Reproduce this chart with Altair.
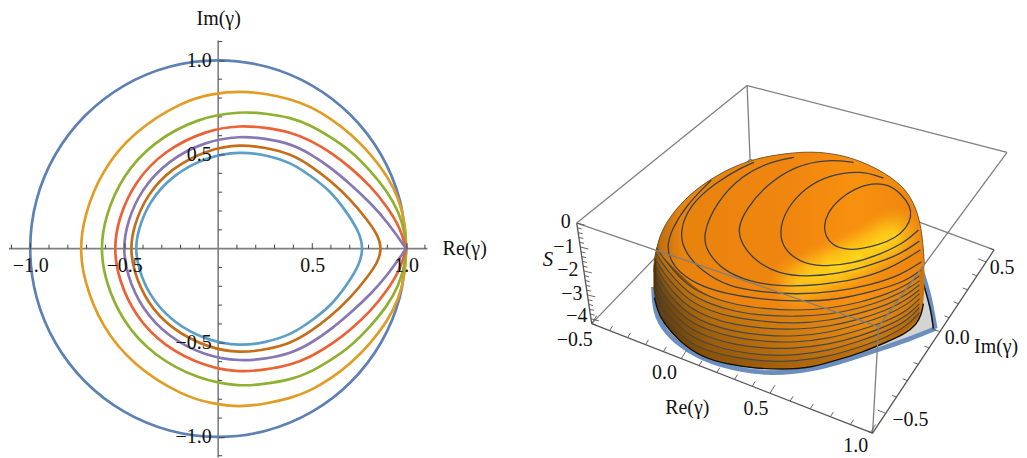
import altair as alt
import numpy as np
import pandas as pd

FONT = "Liberation Serif"
AX = "#7f7f7f"
# ---------- left panel: contour curves (Re, Im)
CURVES = [
 ("#5E81B5", "catmull-rom",
  [1,.966,.866,.707,.5,.259,0,-.259,-.5,-.707,-.866,-.966,-1,-.966,-.866,-.707,-.5,-.259,0,.259,.5,.707,.866,.966,1],
  [0,.259,.5,.707,.866,.966,1,.966,.866,.707,.5,.259,0,-.259,-.5,-.707,-.866,-.966,-1,-.966,-.866,-.707,-.5,-.259,0]),
 ("#E19C24", "basis",
  [1,.997,.961,.899,.811,.705,.599,.493,.387,.25,.12,-.03,-.186,-.453,-.624,-.713,-.737,-.713,-.624,-.453,-.186,-.03,.12,.25,.387,.493,.599,.705,.811,.899,.961,.997,1],
  [0,.123,.265,.38,.494,.60,.679,.741,.78,.81,.822,.81,.77,.61,.40,.17,0,-.17,-.40,-.61,-.77,-.81,-.827,-.81,-.78,-.741,-.679,-.60,-.494,-.38,-.265,-.123,0]),
 ("#8FB131", "basis",
  [1,.997,.961,.899,.811,.705,.599,.493,.387,.25,.12,-.10,-.344,-.51,-.601,-.627,-.601,-.51,-.344,-.10,.12,.25,.387,.493,.599,.705,.811,.899,.961,.997,1],
  [0,.071,.194,.30,.406,.511,.582,.644,.684,.706,.716,.685,.56,.38,.17,0,-.17,-.38,-.56,-.685,-.72,-.706,-.684,-.644,-.582,-.511,-.406,-.30,-.194,-.071,0]),
 ("#EC6235", "basis",
  [1,.97,.899,.811,.705,.599,.493,.387,.25,.12,-.06,-.29,-.443,-.53,-.556,-.53,-.443,-.29,-.06,.12,.25,.387,.493,.599,.705,.811,.899,.97,1],
  [0,.106,.22,.326,.423,.503,.564,.608,.632,.643,.62,.51,.35,.16,0,-.16,-.35,-.51,-.62,-.645,-.632,-.608,-.564,-.503,-.423,-.326,-.22,-.106,0]),
 ("#8778B3", "basis",
  [1,1,.899,.811,.705,.599,.493,.387,.25,.12,-.07,-.267,-.409,-.484,-.507,-.484,-.409,-.267,-.07,.12,.25,.387,.493,.599,.705,.811,.899,1,1],
  [0,0,.141,.238,.335,.423,.494,.547,.575,.588,.56,.46,.31,.14,0,-.14,-.31,-.46,-.56,-.588,-.575,-.547,-.494,-.423,-.335,-.238,-.141,0,0]),
 ("#C56E1A", "basis-closed",
  [.87,.85,.793,.705,.599,.493,.387,.25,.12,-.05,-.25,-.38,-.449,-.468,-.449,-.38,-.25,-.05,.12,.25,.387,.493,.599,.705,.793,.85],
  [0,.071,.15,.256,.353,.432,.494,.528,.544,.52,.42,.28,.12,0,-.12,-.28,-.42,-.52,-.544,-.528,-.494,-.432,-.353,-.256,-.15,-.071]),
 ("#5D9EC7", "basis-closed",
  [.773,.75,.688,.599,.493,.387,.25,.12,-.062,-.249,-.37,-.425,-.441,-.425,-.37,-.249,-.062,.12,.25,.387,.493,.599,.688,.75],
  [0,.088,.185,.30,.379,.45,.49,.507,.48,.38,.24,.10,0,-.10,-.24,-.38,-.48,-.509,-.49,-.45,-.379,-.30,-.185,-.088]),
]
SPLINE_COMP = 1.018   # a basis spline pulls in slightly; widen the Im values to stay on the read curve
MAJOR = [-1.0, -0.5, 0.5, 1.0]
MINOR = [-1.1, -.9, -.8, -.7, -.6, -.4, -.3, -.2, -.1, .1, .2, .3, .4, .6, .7, .8, .9, 1.1]

LW, PH = 480, 450
X0, Y0 = 209.0, 238.7          # pixel position of the origin inside the panel
SX, SY = 188.7, 189.0
xs_left = alt.Scale(domain=[-X0 / SX, (LW - X0) / SX], nice=False, zero=False)
ys_left = alt.Scale(domain=[-(PH - Y0) / SY, Y0 / SY], nice=False, zero=False)

x_axis = alt.Axis(orient="top", offset=-Y0, values=MAJOR, labelExpr="format(datum.value,'.1f')", grid=False,
                  tickColor="#444", tickWidth=1, tickSize=6, domain=False, zindex=1,
                  labelFont=FONT, labelFontSize=20, labelColor="#111", labelBaseline="middle",
                  labelPadding=-23, labelOverlap=False, labelFlush=False, labelBound=False,
                  title="Re(γ)", titleFont=FONT, titleFontSize=20, titleFontWeight="normal",
                  titleColor="#111", titleAngle=0, titleAlign="center", titleBaseline="middle",
                  titleX=456, titleY=0)
y_axis = alt.Axis(orient="right", offset=-(LW - X0), values=MAJOR, labelExpr="format(datum.value,'.1f')", grid=False,
                  tickColor="#444", tickWidth=1, tickSize=6, domain=False, zindex=1,
                  labelFont=FONT, labelFontSize=20, labelColor="#111", labelAlign="right",
                  labelBaseline="middle", labelPadding=-13, labelOverlap=False, labelFlush=False, labelBound=False,
                  title="Im(γ)", titleFont=FONT, titleFontSize=20, titleFontWeight="normal",
                  titleColor="#111", titleAngle=0, titleAlign="center", titleBaseline="middle",
                  titleX=0, titleY=8)

ax_df = pd.DataFrame({"x": [-1.113, 0], "x2": [1.113, 0], "y": [0, -1.11], "y2": [0, 1.105]})
minor_x = pd.DataFrame({"x": MINOR, "x2": MINOR, "y": [0.0] * len(MINOR), "y2": [0.021] * len(MINOR)})
minor_y = pd.DataFrame({"x": [0.0] * len(MINOR), "x2": [0.021] * len(MINOR), "y": MINOR, "y2": MINOR})
XL = alt.X("x:Q", scale=xs_left)
YL = alt.Y("y:Q", scale=ys_left)
left_layers = [
    alt.Chart(ax_df).mark_rule(color=AX, strokeWidth=1.6).encode(
        x=alt.X("x:Q", scale=xs_left, axis=x_axis), x2="x2:Q",
        y=alt.Y("y:Q", scale=ys_left, axis=y_axis), y2="y2:Q"),
    alt.Chart(minor_x).mark_rule(color="#444", strokeWidth=1).encode(x=XL, x2="x2:Q", y=YL, y2="y2:Q"),
    alt.Chart(minor_y).mark_rule(color="#444", strokeWidth=1).encode(x=XL, x2="x2:Q", y=YL, y2="y2:Q"),
]
for col, kind, re_, im_ in CURVES:
    k = SPLINE_COMP if kind != "catmull-rom" else 1.0
    d = pd.DataFrame({"re": re_, "im": [v * k for v in im_], "o": range(len(re_))})
    left_layers.append(
        alt.Chart(d).mark_line(color=col, strokeWidth=2.7, interpolate=kind).encode(
            x=alt.X("re:Q", scale=xs_left), y=alt.Y("im:Q", scale=ys_left), order="o:Q"))
left = alt.layer(*left_layers).properties(width=LW, height=PH)

# ---------- right panel: projected 3-D picture, positions
RW = 531
xs_r = alt.Scale(domain=[488, 1019], nice=False, zero=False)
ys_r = alt.Scale(domain=[458, 8], nice=False, zero=False)
EX = alt.X("sx:Q", scale=xs_r, axis=None)
EY = alt.Y("sy:Q", scale=ys_r, axis=None)

A, B, C, D = (577, 221), (748, 83), (1009, 150), (880, 325)
E, F, G, H = (592, 322), (874, 432), (996, 248), (751, 157)
BACK = [(A, B), (B, C), (B, H), (E, H), (G, H)]
FRONT = [(A, D), (D, C), (D, F)]
EDGES = [(A, E), (E, F), (F, G)]

def segs(pairs):
    return pd.DataFrame([{"sx": p[0], "sy": p[1], "sx2": q[0], "sy2": q[1]} for p, q in pairs])

def seg_chart(df, **kw):
    return alt.Chart(df).mark_rule(**kw).encode(x=EX, y=EY, x2="sx2:Q", y2="sy2:Q")

# axis ticks
S_TICKS = [-0.2 * i for i in range(22)]
RE_TICKS = [round(-.5 + .1 * i, 1) for i in range(16)]
IM_TICKS = [round(-.6 + .1 * i, 1) for i in range(13)]
re_t = []
for v in RE_TICKS:
    px = np.interp(v, [-.5, 0, .5, 1], [592, 682, 771, 872])
    py = np.interp(px, [E[0], F[0]], [E[1], F[1]])
    k = 1.0 if round(v * 10) % 5 == 0 else .6
    re_t.append(((px, py), (px + 5 * k, py - 8 * k)))
im_t = []
for v in IM_TICKS:
    py = np.interp(-v, [-.6, -.5, 0, .5, .6], [248, 260, 330, 412, 432])
    px = np.interp(py, [G[1], F[1]], [G[0], F[0]])
    k = 1.0 if round(v * 10) % 5 == 0 else .6
    im_t.append(((px, py), (px - 8 * k, py - 3 * k)))
s_t = []
for v in S_TICKS:
    py = np.interp(-v, [0, 4.2], [A[1], E[1]])
    px = np.interp(py, [A[1], E[1]], [A[0], E[0]])
    k = 1.0 if round(v * 5) % 5 == 0 else .55
    s_t.append(((px, py), (px + 8 * k, py + 2 * k)))

# wall and dome outline
OUT_X = [654, 655, 658, 663, 680, 703, 730, 757, 787, 813, 840, 863, 887, 907, 918, 923, 925, 926]
OUT_TOP = [270, 255, 243, 226, 202, 182, 166, 156, 151, 149, 152, 159, 171, 186, 206, 227, 247, 262]
DOME_BOT = [270, 258, 252, 254, 272, 292, 302, 307, 309, 309, 305, 300, 292, 284, 277, 270, 262, 262]
WALL_BOT = [285, 296, 308, 320, 340, 356, 363, 367, 368, 366, 358, 351, 341, 332, 323, 313, 302, 285]
shape = pd.DataFrame({"sx": OUT_X, "sy": OUT_TOP, "dome": DOME_BOT, "wall": WALL_BOT})

FLOOR_X = [655, 665, 688, 722, 768, 817, 850, 883, 910, 925, 930, 935]
FLOOR_LOW = [310, 330, 350, 365, 372, 367, 358, 347, 338, 332, 330, 328]
FLOOR_UP = [300, 310, 320, 330, 340, 340, 330, 310, 290, 281, 297, 325]
floor = pd.DataFrame({"sx": FLOOR_X, "sy": FLOOR_LOW, "up": FLOOR_UP})

BLUE_X1 = [654, 654, 655, 665, 688, 722, 768, 812, 850, 883, 910, 937, 937]
BLUE_Y1 = [285, 285, 310, 330, 350, 365, 373, 369, 358, 347, 338, 327, 327]
BLUE_X2 = [937, 937, 934, 930, 923]
BLUE_Y2 = [327, 327, 310, 290, 268]
BLACK_X = [923, 928, 933, 935]
BLACK_Y = [275, 292, 310, 327]

def grad_h(stops):
    return alt.Gradient(gradient="linear", x1=0, x2=1, y1=0, y2=0,
                        stops=[alt.GradientStop(color=c, offset=o) for o, c in stops])

def radial(stops):
    return alt.RadialGradient(gradient="radial", x1=.5, y1=.5, r1=0, x2=.5, y2=.5, r2=.5,
                              stops=[alt.GradientStop(color=c, offset=o) for o, c in stops])

wall = alt.Chart(shape).mark_area(interpolate="basis", color=grad_h(
    [(0, "#4e2f04"), (.03, "#6f4306"), (.2, "#a2620b"), (.5, "#c87710"), (.8, "#e58a12"), (1, "#c8750f")])
).encode(x=EX, y=EY, y2="wall:Q")
dome = alt.Chart(shape).mark_area(interpolate="basis", color=grad_h(
    [(0, "#7c4a06"), (.025, "#c07010"), (.1, "#e8830f"), (.5, "#f0860f"), (.75, "#f8900f"), (1, "#ec850f")])
).encode(x=EX, y=EY, y2="dome:Q")

# soft yellow highlight: round glows along the lit band
GLOW_X = [800, 820, 840, 860, 880, 896]
GLOW_Y = [281, 272, 264, 254, 243, 233]
GLOW_A = [.7, .9, 1, 1, .95, .7]
GLOW_R = 30
blobs = []
for gx, gy, ga in zip(GLOW_X, GLOW_Y, GLOW_A):
    bd = pd.DataFrame({"sx": [gx - GLOW_R, gx + GLOW_R], "sy": [gy - GLOW_R] * 2, "b": [gy + GLOW_R] * 2})
    blobs.append(alt.Chart(bd).mark_area(color=radial(
        [(0, f"rgba(255,230,30,{ga})"), (.5, f"rgba(255,208,25,{ga * .55})"), (1, "rgba(250,160,20,0)")])
    ).encode(x=EX, y=EY, y2="b:Q"))

CONT_COL = "#3b4144"
C1_X = [825, 828, 840, 857, 873, 890, 903, 912, 913, 908, 897, 880, 863, 847, 833, 827]
C1_Y = [225, 212, 197, 186, 181, 182, 192, 204, 215, 226, 236, 243, 247, 248, 243, 234]
OPEN = [
 ([885, 863, 830, 807, 787, 780, 785, 800, 823, 853, 883, 907, 920],
  [176, 168, 173, 185, 207, 230, 247, 260, 265, 262, 252, 240, 228]),
 ([855, 830, 797, 767, 747, 738, 743, 757, 780, 807, 840, 873, 903, 921],
  [160, 157, 163, 183, 207, 227, 243, 260, 272, 275, 272, 263, 252, 239]),
 ([795, 770, 743, 717, 703, 708, 723, 750, 783, 823, 857, 890, 922],
  [155, 160, 173, 200, 233, 250, 268, 280, 285, 283, 278, 268, 248]),
 ([755, 743, 717, 690, 680, 685, 703, 730, 760, 797, 837, 873, 903, 923],
  [160, 165, 180, 203, 230, 250, 270, 285, 290, 293, 290, 283, 273, 260]),
 ([712, 687, 672, 667, 673, 697, 727, 757, 797, 840, 873, 907, 923],
  [178, 203, 228, 245, 265, 283, 292, 297, 300, 298, 290, 280, 268]),
]
RIM_X = [657, 664, 675, 690, 710, 735, 765, 797, 830, 860, 890, 910, 921]
RIMS = [
 [246, 256, 270, 285, 295, 303, 307, 309, 307, 301, 292, 282, 274],
 [252, 263, 277, 292, 302, 310, 314, 315, 313, 307, 297, 287, 279],
 [259, 271, 284, 299, 309, 316, 320, 322, 319, 312, 303, 292, 283],
 [265, 278, 292, 306, 316, 323, 327, 328, 325, 318, 308, 297, 288],
 [271, 285, 299, 313, 323, 330, 334, 335, 331, 323, 313, 302, 292],
 [278, 293, 306, 320, 329, 336, 340, 341, 337, 329, 319, 308, 297],
 [284, 300, 313, 327, 336, 343, 347, 347, 343, 335, 324, 313, 302],
 [290, 307, 320, 334, 343, 350, 354, 354, 349, 340, 329, 318, 306],
 [297, 315, 328, 341, 350, 356, 360, 360, 355, 346, 335, 323, 311],
]
# shading of the bands between wall contours: warm near the rim, dark near the floor
BAND_COL = ["#f08c10", "#f08c10", "#f08c10", "#f08c10", "#f08c10", "#3c1e00", "#3c1e00", "#3c1e00"]
BAND_A = [.6, .45, .32, .2, .08, .03, .08, .14]
bands = []
for r0, r1, c, a in zip(RIMS[:-1], RIMS[1:], BAND_COL, BAND_A):
    bd = pd.DataFrame({"sx": RIM_X, "sy": r0, "b": r1})
    bands.append(alt.Chart(bd).mark_area(color=c, opacity=a, interpolate="basis").encode(x=EX, y=EY, y2="b:Q"))
LOW_X = [664, 675, 690, 710, 735, 765, 797, 830, 860, 890, 910, 921]
LOW_BOT = [322, 335, 348, 357, 363, 367, 367, 361, 351, 340, 328, 315]
bd = pd.DataFrame({"sx": LOW_X, "sy": RIMS[-1][1:], "b": LOW_BOT})
bands.append(alt.Chart(bd).mark_area(color="#3c1e00", opacity=.22, interpolate="basis").encode(x=EX, y=EY, y2="b:Q"))

def pline(xs, ys, color=CONT_COL, width=1.3, interp="basis"):
    d = pd.DataFrame({"sx": xs, "sy": ys, "o": range(len(xs))})
    return alt.Chart(d).mark_line(color=color, strokeWidth=width, interpolate=interp).encode(x=EX, y=EY, order="o:Q")

labels = pd.DataFrame([
    ("0", 566, 220), ("\u22121", 564, 245), ("\u22122", 568, 268), ("\u22123", 572, 292), ("\u22124", 577, 314),
    ("\u22120.5", 575, 338), ("0.0", 665, 372), ("0.5", 757, 408), ("1.0", 857, 445), ("Re(γ)", 688, 407),
    ("0.0", 959, 336), ("0.5", 1004, 266), ("\u22120.5", 912, 419), ("Im(γ)", 998, 345),
], columns=["t", "sx", "sy"])
s_label = pd.DataFrame({"t": ["S"], "sx": [548], "sy": [258]})

right_layers = [seg_chart(segs(BACK), color=AX, strokeWidth=1.3),
                alt.Chart(floor).mark_area(color="#d4d4d4", interpolate="monotone").encode(x=EX, y=EY, y2="up:Q"),
                pline(BLUE_X1, BLUE_Y1, color="#6C8EBF", width=4.6),
                pline(BLUE_X2, BLUE_Y2, color="#6C8EBF", width=4.6),
                pline(BLACK_X, BLACK_Y, color="#111", width=1.5),
                wall] + bands + [dome] + blobs + [
                pline(OUT_X, OUT_TOP, color="#5c4a2c", width=.8),
                pline(C1_X, C1_Y, interp="basis-closed")]
right_layers += [pline(x, y) for x, y in OPEN]
right_layers += [pline(RIM_X, r, color="#45484a", width=1.15) for r in RIMS]
right_layers += [
    pline(OUT_X[1:-1], WALL_BOT[1:-1], color="#111", width=1.4),
    seg_chart(segs(FRONT), color=AX, strokeWidth=1.3),
    seg_chart(segs(EDGES), color="#555", strokeWidth=1.3),
    seg_chart(segs(re_t + im_t + s_t), color="#555", strokeWidth=.9),
    alt.Chart(labels).mark_text(font=FONT, fontSize=20, color="#111", align="center", baseline="middle").encode(
        x=EX, y=EY, text="t:N"),
    alt.Chart(s_label).mark_text(font=FONT, fontSize=21, fontStyle="italic", color="#111", align="center",
                                 baseline="middle").encode(x=EX, y=EY, text="t:N"),
]
right = alt.layer(*right_layers).properties(width=RW, height=PH)

chart = alt.hconcat(left, right, spacing=0, bounds="flush").properties(padding=0).configure_view(stroke=None)
chart.save("out.html", embed_options={"renderer": "svg", "actions": False})
